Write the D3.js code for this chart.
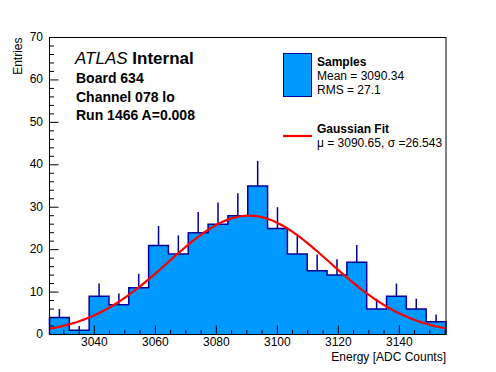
<!DOCTYPE html>
<html>
<head>
<meta charset="utf-8">
<script src="https://cdn.jsdelivr.net/npm/d3@7"></script>
<style>
  body { margin: 0; background: #fff; }
  #chart { width: 496px; height: 372px; }
  text { font-family: "Liberation Sans", Arial, Helvetica, sans-serif; fill: #000; }
</style>
</head>
<body>
<div id="chart"></div>
<script>
// histogram data
var binLow = 3025.3;
var binWidth = 6.5;
var counts = [4, 1, 9, 7, 11, 21, 19, 24, 26, 28, 35, 25, 19, 15, 14, 17, 6, 9, 6, 3];

// gaussian fit result (from the legend)
var fitMean = 3090.65;
var fitSigma = 26.543;
var fitAmplitude = 28;

var xTickValues = [3040, 3060, 3080, 3100, 3120, 3140];
var yTickValues = [0, 10, 20, 30, 40, 50, 60, 70];

var labelLines = ["Board 634", "Channel 078 lo", "Run 1466 A=0.008"];
var legendSampleLines = ["Mean = 3090.34", "RMS = 27.1"];
var legendFitLine = "\u03bc = 3090.65, \u03c3 =26.543";

var width = 496, height = 372;
var margin = {left: 49.5, right: 50, top: 37.5, bottom: 37.5};
var x0 = margin.left, x1 = width - margin.right;
var y0 = height - margin.bottom, y1 = margin.top;

var binHigh = binLow + binWidth * counts.length;
var bins = counts.map(function(c, i) {
  return {lo: binLow + i * binWidth, hi: binLow + (i + 1) * binWidth, n: c};
});

var x = d3.scaleLinear().domain([binLow, binHigh]).range([x0, x1]);
var y = d3.scaleLinear().domain([0, 70]).range([y0, y1]);

var svg = d3.select("#chart").append("svg")
    .attr("width", width)
    .attr("height", height);

var fillColor = "#0099ff";
var lineColor = "#000099";

// filled histogram
var area = d3.area()
    .curve(d3.curveStepAfter)
    .x(function(d) { return x(d.x); })
    .y0(y(0))
    .y1(function(d) { return y(d.n); });

var stepPts = bins.map(function(b) { return {x: b.lo, n: b.n}; });
stepPts.push({x: binHigh, n: counts[counts.length - 1]});

svg.append("path")
    .datum(stepPts)
    .attr("d", area)
    .attr("fill", fillColor);

// error bars (only the upper half shows above the fill)
svg.append("g")
  .selectAll("line")
  .data(bins)
  .enter().append("line")
    .attr("x1", function(d) { return x((d.lo + d.hi) / 2); })
    .attr("x2", function(d) { return x((d.lo + d.hi) / 2); })
    .attr("y1", function(d) { return y(d.n); })
    .attr("y2", function(d) { return y(d.n + Math.sqrt(d.n)); })
    .attr("stroke", lineColor)
    .attr("stroke-width", 1.5);

// outline
var outline = d3.line()
    .curve(d3.curveStepAfter)
    .x(function(d) { return x(d.x); })
    .y(function(d) { return y(d.n); });

var outlinePts = [{x: binLow, n: 0}].concat(stepPts).concat([{x: binHigh, n: 0}]);
svg.append("path")
    .datum(outlinePts)
    .attr("d", outline)
    .attr("fill", "none")
    .attr("stroke", lineColor)
    .attr("stroke-width", 1.5);

// gaussian curve
var fitPts = d3.range(0, 201).map(function(i) {
  var v = binLow + (binHigh - binLow) * i / 200;
  var z = (v - fitMean) / fitSigma;
  return [v, fitAmplitude * Math.exp(-0.5 * z * z)];
});
svg.append("path")
    .datum(fitPts)
    .attr("d", d3.line()
      .x(function(d) { return x(d[0]); })
      .y(function(d) { return y(d[1]); }))
    .attr("fill", "none")
    .attr("stroke", "#ff0000")
    .attr("stroke-width", 2.2);

// frame
svg.append("rect")
    .attr("x", x0).attr("y", y1)
    .attr("width", x1 - x0).attr("height", y0 - y1)
    .attr("fill", "none")
    .attr("stroke", "#000")
    .attr("stroke-width", 1);

// x ticks, drawn inward
var xMinor = d3.range(3030, binHigh, 5);
svg.append("g").selectAll("line")
  .data(xMinor)
  .enter().append("line")
    .attr("x1", function(d) { return x(d); })
    .attr("x2", function(d) { return x(d); })
    .attr("y1", y0)
    .attr("y2", function(d) { return xTickValues.indexOf(d) >= 0 ? y0 - 9 : y0 - 4.5; })
    .attr("stroke", "#000");

svg.append("g").selectAll("text")
  .data(xTickValues)
  .enter().append("text")
    .attr("x", function(d) { return x(d); })
    .attr("y", 346)
    .attr("text-anchor", "middle")
    .style("font-size", "12px")
    .text(function(d) { return d; });

// y ticks
var yMinor = d3.range(0, 71, 2);
svg.append("g").selectAll("line")
  .data(yMinor)
  .enter().append("line")
    .attr("x1", x0)
    .attr("x2", function(d) { return d % 10 === 0 ? x0 + 9 : x0 + 4.5; })
    .attr("y1", function(d) { return y(d); })
    .attr("y2", function(d) { return y(d); })
    .attr("stroke", "#000");

svg.append("g").selectAll("text")
  .data(yTickValues)
  .enter().append("text")
    .attr("x", 43)
    .attr("y", function(d) { return y(d) + 3.5; })
    .attr("text-anchor", "end")
    .style("font-size", "12px")
    .text(function(d) { return d; });

// axis titles
svg.append("text")
    .attr("x", x1)
    .attr("y", 361)
    .attr("text-anchor", "end")
    .style("font-size", "12px")
    .text("Energy [ADC Counts]");

svg.append("text")
    .attr("transform", "translate(22," + y1 + ") rotate(-90)")
    .attr("text-anchor", "end")
    .style("font-size", "12px")
    .text("Entries");

// ATLAS label
var atlas = svg.append("text")
    .attr("x", 75)
    .attr("y", 64)
    .style("font-size", "17px");
atlas.append("tspan").style("font-style", "italic").text("ATLAS");
atlas.append("tspan").style("font-weight", "bold").text(" Internal");

svg.append("g").selectAll("text")
  .data(labelLines)
  .enter().append("text")
    .attr("x", 76)
    .attr("y", function(d, i) { return 83 + i * 18.5; })
    .style("font-size", "14px")
    .style("font-weight", "bold")
    .text(function(d) { return d; });

// legend
svg.append("rect")
    .attr("x", 283.5).attr("y", 53.5)
    .attr("width", 28).attr("height", 43)
    .attr("fill", fillColor)
    .attr("stroke", lineColor)
    .attr("stroke-width", 1);

svg.append("text")
    .attr("x", 317).attr("y", 66)
    .style("font-size", "12px")
    .style("font-weight", "bold")
    .text("Samples");

svg.append("g").selectAll("text")
  .data(legendSampleLines)
  .enter().append("text")
    .attr("x", 317)
    .attr("y", function(d, i) { return 80 + i * 13.5; })
    .style("font-size", "12px")
    .text(function(d) { return d; });

svg.append("line")
    .attr("x1", 283).attr("x2", 312)
    .attr("y1", 136).attr("y2", 136)
    .attr("stroke", "#ff0000")
    .attr("stroke-width", 2.2);

svg.append("text")
    .attr("x", 317).attr("y", 133)
    .style("font-size", "12px")
    .style("font-weight", "bold")
    .text("Gaussian Fit");

svg.append("text")
    .attr("x", 317).attr("y", 146.5)
    .style("font-size", "12px")
    .text(legendFitLine);
</script>
</body>
</html>
